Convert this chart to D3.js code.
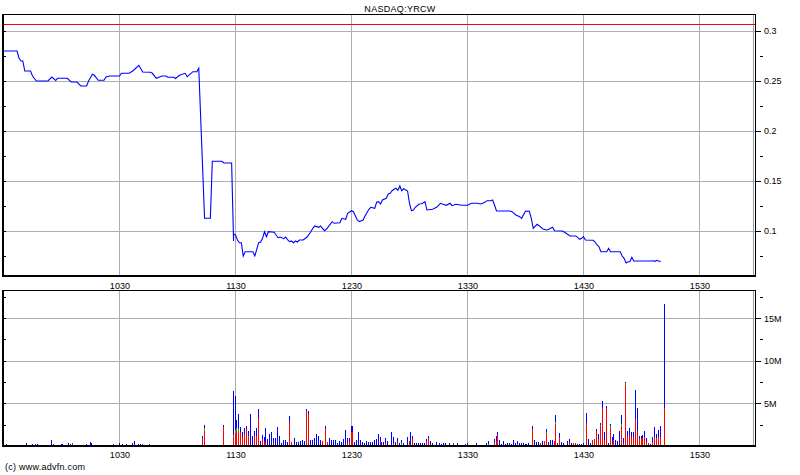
<!DOCTYPE html>
<html>
<head>
<meta charset="utf-8">
<script src="https://cdn.jsdelivr.net/npm/d3@7"></script>
<style>
  html, body { margin: 0; padding: 0; background: #fff; }
  svg { display: block; font-family: "Liberation Sans", Arial, sans-serif; }
  text { font-size: 9px; fill: #000; }
</style>
</head>
<body>
<svg id="chart" width="800" height="475"></svg>
<script>
// ---------- DATA ----------
const title = "NASDAQ:YRCW";
const copyright = "(c) www.advfn.com";
const prevClose = 0.3067;

const timeTicks = ["10:30", "11:30", "12:30", "13:30", "14:30", "15:30"];
const priceTicks = [0.1, 0.15, 0.2, 0.25, 0.3];
const priceMinorTicks = [0.075, 0.125, 0.175, 0.225, 0.275];
const volTicks = [5, 10, 15];
const volMinorTicks = [2.5, 7.5, 12.5, 17.5];

const priceTimes = ["9:30","9:37","9:38","9:39","9:40","9:41","9:44","9:45","9:47","9:53","9:55","9:57","9:58","10:03","10:05","10:08","10:10","10:13","10:14","10:16","10:17","10:19","10:22","10:23","10:25","10:30","10:31","10:35","10:37","10:40","10:42","10:46","10:47","10:49","10:52","10:54","10:55","10:58","10:59","11:01","11:04","11:05","11:08","11:10","11:11","11:14","11:17","11:18","11:23","11:24","11:28","11:29","11:29","11:30","11:31","11:32","11:33","11:34","11:35","11:39","11:40","11:42","11:43","11:44","11:45","11:46","11:47","11:50","11:52","11:53","11:55","11:56","11:57","11:58","11:59","12:00","12:01","12:02","12:03","12:05","12:07","12:09","12:10","12:11","12:13","12:14","12:16","12:17","12:20","12:21","12:24","12:25","12:27","12:28","12:30","12:31","12:33","12:34","12:36","12:37","12:39","12:40","12:42","12:43","12:44","12:45","12:46","12:48","12:49","12:50","12:51","12:52","12:53","12:54","12:55","12:56","12:57","12:59","13:00","13:01","13:02","13:03","13:05","13:06","13:07","13:08","13:09","13:12","13:14","13:16","13:17","13:19","13:21","13:22","13:24","13:27","13:30","13:32","13:35","13:37","13:39","13:40","13:42","13:43","13:44","13:45","13:52","13:53","13:55","13:57","13:58","14:00","14:02","14:03","14:04","14:06","14:07","14:09","14:11","14:12","14:14","14:15","14:19","14:20","14:21","14:23","14:26","14:27","14:28","14:29","14:30","14:31","14:35","14:36","14:37","14:38","14:39","14:42","14:43","14:44","14:49","14:50","14:51","14:52","14:53","14:54","14:55","14:56","15:05","15:06","15:07","15:08","15:09","15:10"];
const priceValues = [0.280,0.280,0.273,0.270,0.270,0.260,0.260,0.255,0.250,0.250,0.254,0.2505,0.2527,0.2527,0.249,0.249,0.245,0.245,0.250,0.2567,0.2557,0.2507,0.2507,0.254,0.255,0.255,0.2577,0.2577,0.2603,0.2657,0.259,0.2587,0.2577,0.2527,0.255,0.255,0.2537,0.2537,0.2525,0.2557,0.2577,0.2543,0.2593,0.2593,0.2627,0.1127,0.1127,0.1697,0.1697,0.168,0.168,0.090,0.097,0.096,0.091,0.0883,0.0883,0.075,0.0793,0.0793,0.075,0.0883,0.089,0.0927,0.0993,0.0943,0.0993,0.0987,0.0933,0.094,0.0923,0.094,0.091,0.0893,0.090,0.0883,0.090,0.089,0.091,0.091,0.094,0.0993,0.1027,0.105,0.1037,0.105,0.1003,0.1017,0.1093,0.1077,0.1083,0.1127,0.1117,0.1177,0.1203,0.1193,0.111,0.1093,0.111,0.115,0.1217,0.1237,0.1227,0.1287,0.1293,0.127,0.131,0.1327,0.137,0.1377,0.1403,0.1417,0.1427,0.1407,0.145,0.1403,0.1423,0.140,0.1277,0.1203,0.121,0.1237,0.127,0.1273,0.128,0.1293,0.121,0.1217,0.1237,0.1277,0.127,0.1257,0.1277,0.1253,0.1267,0.1257,0.1257,0.1277,0.1277,0.127,0.1287,0.1303,0.1303,0.131,0.1257,0.120,0.120,0.1193,0.116,0.1143,0.1127,0.120,0.1197,0.1127,0.1027,0.1067,0.1053,0.102,0.101,0.1017,0.1037,0.1003,0.100,0.099,0.0977,0.095,0.095,0.0937,0.0917,0.0927,0.0943,0.091,0.0907,0.089,0.086,0.0843,0.0793,0.0793,0.0827,0.0793,0.0793,0.075,0.0727,0.068,0.0693,0.0693,0.0737,0.070,0.070,0.0703,0.0697,0.0707,0.0697,0.0697];

// volume in millions: total, red (down) part, green part; blue = remainder
const volTimes = ["9:30","9:32","9:42","9:45","9:47","9:48","9:55","9:56","10:00","10:01","10:04","10:05","10:06","10:13","10:15","10:16","10:27","10:30","10:32","10:34","10:37","10:38","10:40","10:41","10:42","10:46","11:13","11:14","11:24",
"11:29","11:30","11:31","11:32","11:33","11:34","11:35","11:36","11:37","11:38","11:39","11:40","11:41","11:42","11:43","11:44","11:45","11:46","11:47","11:48","11:49","11:50","11:51","11:52","11:53","11:54","11:55","11:56","11:57","11:58","11:59",
"12:01","12:02","12:03","12:04","12:05","12:06","12:07","12:08","12:09","12:10","12:11","12:12","12:13","12:14","12:15","12:17","12:18","12:19","12:20","12:21","12:22","12:23","12:24","12:25","12:26","12:27","12:28","12:29","12:30","12:31","12:32","12:33","12:34","12:35","12:36","12:37","12:38","12:39","12:40","12:41","12:42","12:43","12:44","12:45","12:46","12:47","12:48","12:49","12:51","12:52","12:53","12:54","12:55","12:56","12:57","12:59",
"13:00","13:01","13:02","13:03","13:04","13:05","13:06","13:07","13:08","13:09","13:10","13:11","13:12","13:13","13:14","13:15","13:16","13:17","13:18","13:19","13:21","13:23","13:25","13:27","13:28","13:29","13:30","13:31","13:35","13:36","13:38","13:39","13:40","13:41","13:43","13:44","13:45","13:46","13:47","13:48","13:49","13:50","13:51","13:52","13:53","13:54","13:55","13:56","13:57","13:58","13:59",
"14:00","14:01","14:02","14:04","14:05","14:06","14:07","14:08","14:09","14:10","14:11","14:12","14:13","14:14","14:15","14:16","14:17","14:18","14:19","14:20","14:21","14:22","14:23","14:24","14:25","14:26","14:27","14:28","14:29","14:30","14:32","14:33","14:34","14:35","14:36","14:37","14:38","14:39","14:40","14:41","14:42","14:43","14:44","14:45","14:46","14:47","14:48","14:49","14:50","14:51","14:52","14:53","14:54","14:55","14:56","14:57","14:58","14:59",
"15:00","15:01","15:02","15:03","15:04","15:05","15:06","15:07","15:08","15:09","15:10","15:12"];
const volTotal = [0.3,0.27,0.33,0.27,0.27,0.27,0.7,0.27,0.27,0.27,0.33,0.27,0.39,0.27,0.5,0.3,0.27,0.39,0.27,0.27,0.39,0.62,0.27,0.27,0.27,0.27,1.17,2.46,2.46,
6.4,5.9,3.1,3.7,2.2,1.6,2.1,2.3,1.8,3.7,1.2,1.8,2.1,4.3,0.55,1.3,1.0,2.1,0.8,1.4,1.6,0.9,0.9,2.2,1.2,0.4,0.75,0.75,0.5,3.55,0.5,
0.95,0.5,0.5,0.6,0.75,0.55,4.3,4.1,0.75,0.75,0.95,1.35,1.2,0.75,0.55,2.3,0.45,0.95,0.75,0.75,0.75,0.4,0.55,0.45,0.85,1.9,0.95,0.95,2.3,2.3,0.5,0.75,1.6,0.75,0.5,0.3,0.6,0.5,0.5,0.5,0.75,0.85,1.35,1.1,0.5,0.5,0.95,0.6,1.6,1.1,0.5,0.95,0.4,0.75,0.4,1.1,
0.6,1.6,1.2,0.4,0.3,0.3,0.3,0.4,0.3,0.85,1.2,0.6,0.4,0.15,0.5,0.15,0.4,0.25,0.4,0.4,0.3,0.3,0.3,0.15,0.15,0.25,0.3,0.15,0.3,0.15,0.15,0.15,0.3,0.55,0.15,0.8,1.2,1.7,0.75,0.25,0.6,0.25,0.4,0.4,0.25,0.75,0.3,0.55,0.4,0.3,0.3,
0.25,0.25,0.4,2.4,0.75,0.5,0.5,0.4,0.6,0.6,2.05,0.5,0.75,0.75,0.6,3.6,0.4,1.5,0.45,0.3,0.12,0.6,0.8,0.3,0.4,0.3,0.25,0.25,0.25,0.4,3.9,0.8,0.3,0.65,0.8,2.0,1.4,2.7,5.3,1.65,4.7,0.3,2.6,1.05,1.4,0.7,0.6,1.75,3.6,0.95,7.5,1.75,2.15,1.6,1.6,6.6,4.4,1.2,
1.2,1.25,1.75,0.95,0.4,0.2,1.1,2.2,1.45,1.9,2.4,16.6];
const volRed = [0,0,0,0,0,0,0,0,0,0,0,0,0.3,0,0,0,0,0,0,0,0,0,0,0,0,0,0.97,1.8,2.2,
1.0,1.5,1.8,1.8,1.6,1.0,1.4,2.0,1.0,0,0,1.2,1.2,3.25,0,0.8,0.6,0.4,0,0,0,0.3,0,0,0,0,0,0,0,2.8,0.5,
0,0,0,0,0,0,4.1,3.8,0,0,0,0,0,0,0.55,2.0,0.45,0,0,0,0,0,0,0,0,0,0.3,0.5,1.6,1.7,0,0,0,0,0,0,0,0,0,0,0,0,0,0.6,0,0,0.4,0,0,0.4,0,0.5,0,0,0,0,
0.6,0,0.9,0,0,0,0,0,0,0.6,0.9,0,0,0,0,0,0,0,0,0,0,0.3,0,0,0,0,0,0,0,0,0,0,0,0,0,0.5,0.6,1.3,0,0,0,0,0,0,0,0,0,0,0,0,0,
0,0,0,2.0,0,0,0,0.4,0,0.6,1.5,0,0,0,0.6,2.6,0,1.0,0,0,0,0,0.3,0,0.4,0.3,0,0,0,0,2.7,0,0,0.65,0.8,1.75,0.8,2.35,4.4,0.75,4.5,0,2.1,0.3,0.6,0,0,0,2.35,0.3,7.1,1.2,1.3,1.1,1.0,3.2,1.75,0.8,
0.9,0.9,1.0,0.5,0.4,0,0.5,1.0,0.9,1.0,1.1,4.4];
const volGreen = [0,0,0,0,0,0,0,0,0,0,0,0,0,0,0,0,0,0,0,0,0,0,0,0,0,0,0,0.3,0,
0.3,0.4,0.3,0.2,0,0,0,0,0.2,0,0,0,0,0,0,0,0,0,0,0,0,0,0,0,0,0,0,0,0,0,0,
0,0,0,0,0,0,0,0,0,0,0,0,0,0,0,0,0,0,0,0,0,0,0,0,0,0,0,0,0,0,0,0,0,0,0,0,0,0,0,0,0,0,0,0,0,0,0,0,0,0,0,0,0,0.3,0,0,
0,0,0,0,0,0,0,0,0,0,0,0,0,0,0,0,0,0,0,0,0,0,0,0,0,0,0,0,0,0,0,0,0,0.2,0,0,0,0,0,0,0,0,0,0,0,0,0,0.2,0,0,0,
0,0,0,0,0,0,0,0,0,0,0.2,0,0,0,0,0.2,0,0,0,0,0,0,0,0,0,0,0,0,0,0,0,0,0,0,0,0,0,0.15,0,0,0,0,0.2,0,0.15,0,0,0,0.2,0,0.3,0,0,0,0,0,0,0,
0,0,0,0,0,0,0,0,0,0,0,0];

// ---------- CHART ----------
const parse = d3.timeParse("%H:%M");
const svg = d3.select("#chart");

const L = 3, R = 755;
const P = { top: 14, bottom: 276 };
const V = { top: 290, bottom: 446 };

const x = d3.scaleTime().domain([parse("9:30"), parse("16:00")]).range([3.5, 757.5]);
const y = d3.scaleLinear().domain([0.055, 0.317]).range([P.bottom, P.top]);
const yv = d3.scaleLinear().domain([0, 18.3]).range([V.bottom, V.top]);

const gridColor = "#a7b0b0";
const tickDates = timeTicks.map(parse);

function panel(top, bottom, yScale, major, minor, fmt) {
  const g = svg.append("g");
  // vertical grid
  g.selectAll(".vg").data(tickDates).join("line")
    .attr("x1", d => Math.round(x(d)) - 0.5).attr("x2", d => Math.round(x(d)) - 0.5)
    .attr("y1", top).attr("y2", bottom)
    .attr("stroke", gridColor).attr("shape-rendering", "crispEdges");
  // horizontal grid
  g.selectAll(".hg").data(major).join("line")
    .attr("x1", L).attr("x2", R)
    .attr("y1", d => Math.round(yScale(d)) + 0.5).attr("y2", d => Math.round(yScale(d)) + 0.5)
    .attr("stroke", gridColor).attr("shape-rendering", "crispEdges");
  // inner right gray line
  g.append("line").attr("x1", 753.5).attr("x2", 753.5).attr("y1", top).attr("y2", bottom)
    .attr("stroke", "#9aa0a0").attr("shape-rendering", "crispEdges");
  // right axis
  const ax = d3.axisRight(yScale).tickValues(major).tickSize(6).tickPadding(3).tickFormat(fmt);
  const ag = svg.append("g").attr("transform", `translate(${R},0)`).call(ax);
  ag.select(".domain").remove();
  ag.selectAll(".tick line").attr("stroke", "#000").attr("shape-rendering", "crispEdges");
  ag.selectAll(".tick text").attr("font-size", 9).attr("font-family", "Liberation Sans, Arial, sans-serif").attr("fill", "#000");
  // minor ticks right
  svg.append("g").selectAll("line").data(minor).join("line")
    .attr("x1", R + 5).attr("x2", R + 8)
    .attr("y1", d => Math.round(yScale(d)) + 0.5).attr("y2", d => Math.round(yScale(d)) + 0.5)
    .attr("stroke", "#000").attr("shape-rendering", "crispEdges");
  // left small ticks
  svg.append("g").selectAll("line").data(major.concat(minor)).join("line")
    .attr("x1", L).attr("x2", L + 3)
    .attr("y1", d => Math.round(yScale(d)) + 0.5).attr("y2", d => Math.round(yScale(d)) + 0.5)
    .attr("stroke", "#000").attr("shape-rendering", "crispEdges");
  return g;
}

function frame(top, bottom) {
  const f = svg.append("g").attr("shape-rendering", "crispEdges").attr("stroke", "#000");
  f.append("line").attr("x1", L - 1).attr("x2", R + 1).attr("y1", top + 0.5).attr("y2", top + 0.5);
  f.append("line").attr("x1", L - 1).attr("x2", R + 1).attr("y1", bottom).attr("y2", bottom).attr("stroke-width", 2);
  f.append("line").attr("x1", L).attr("x2", L).attr("y1", top).attr("y2", bottom).attr("stroke-width", 2);
  f.append("line").attr("x1", R + 0.5).attr("x2", R + 0.5).attr("y1", top).attr("y2", bottom + 1);
}

// ---- price panel ----
panel(P.top, P.bottom, y, priceTicks, priceMinorTicks, d => d3.format(".2~f")(d));

svg.append("line")
  .attr("x1", L).attr("x2", R + 1)
  .attr("y1", Math.round(y(prevClose)) + 0.5).attr("y2", Math.round(y(prevClose)) + 0.5)
  .attr("stroke", "#ff0000").attr("shape-rendering", "crispEdges");

const priceData = priceTimes.map((t, i) => ({ t: parse(t), v: priceValues[i] }));
svg.append("path")
  .datum(priceData)
  .attr("fill", "none").attr("stroke", "#0000ff").attr("stroke-width", 1.1)
  .attr("d", d3.line().x(d => x(d.t)).y(d => y(d.v)));

frame(P.top, P.bottom);

// ---- volume panel ----
panel(V.top, V.bottom, yv, volTicks, volMinorTicks, d => d + "M");

const volData = volTimes.map((t, i) => ({ t: parse(t), total: volTotal[i], red: volRed[i], green: volGreen[i] }));
const vb = svg.append("g").attr("shape-rendering", "crispEdges");
function seg(cls, color, lo, hi) {
  vb.selectAll("." + cls).data(volData.filter(d => hi(d) > lo(d))).join("rect")
    .attr("class", cls)
    .attr("x", d => Math.round(x(d.t)) - 1)
    .attr("width", 1)
    .attr("y", d => yv(hi(d)))
    .attr("height", d => yv(lo(d)) - yv(hi(d)))
    .attr("fill", color);
}
seg("vr", "#ff0000", d => 0, d => d.red);
seg("vg", "#00c000", d => d.red, d => d.red + d.green);
seg("vbl", "#0000ff", d => d.red + d.green, d => d.total);

frame(V.top, V.bottom);

// ---- x axes labels ----
function xLabels(yPos) {
  const ax = d3.axisBottom(x).tickValues(tickDates).tickSize(0).tickPadding(0).tickFormat(d3.timeFormat("%H%M"));
  const g = svg.append("g").attr("transform", `translate(0,${yPos})`).call(ax);
  g.select(".domain").remove();
  g.selectAll("text").attr("font-size", 9).attr("fill", "#000").attr("dy", 0)
    .attr("font-family", "Liberation Sans, Arial, sans-serif").attr("letter-spacing", 0.1);
}
xLabels(288.5);
xLabels(458);

// ---- titles ----
svg.append("text").attr("x", 400).attr("y", 12).attr("text-anchor", "middle")
  .attr("letter-spacing", 0.3).text(title);
svg.append("text").attr("x", 5).attr("y", 470).attr("letter-spacing", 0.25).text(copyright);
</script>
</body>
</html>
